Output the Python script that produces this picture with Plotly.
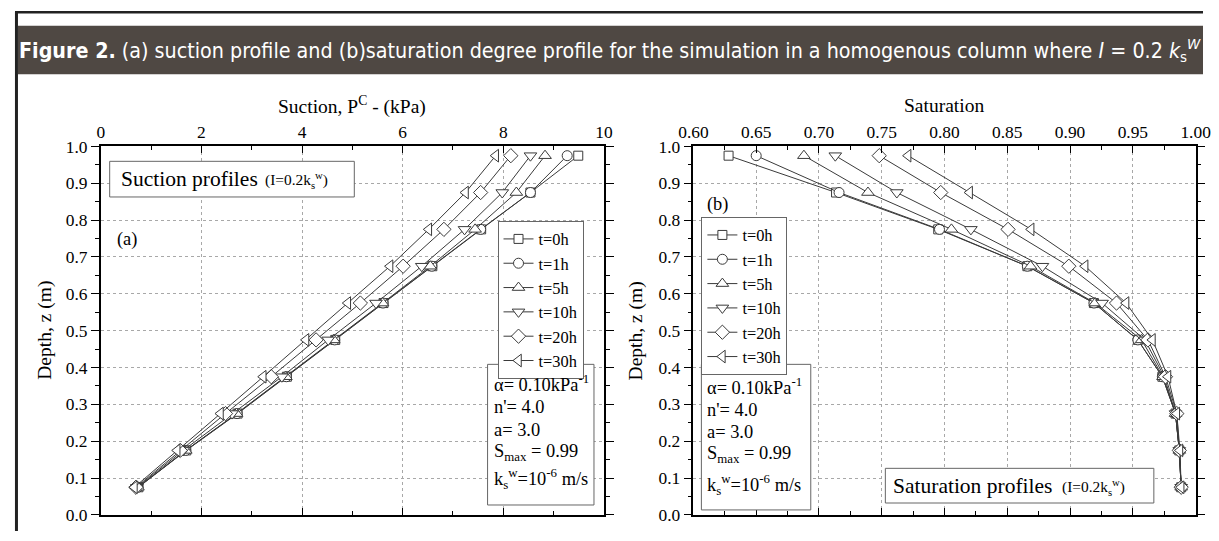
import plotly.graph_objects as go

W, H = 1219, 541

# The photographed page comes out slightly reduced and shifted; layout
# positions below are given in target-picture pixels and mapped back.
SX, OX = 0.980, 12.8
SY, OY = 0.9724, 6.2
FS = 1 / 0.976  # font compensation

# ---------------- data ----------------
depth = [0.975, 0.875, 0.775, 0.675, 0.575, 0.475, 0.375, 0.275, 0.175, 0.075]
series_names = ["t=0h", "t=1h", "t=5h", "t=10h", "t=20h", "t=30h"]

suction_t0 = [9.49, 8.54, 7.56, 6.59, 5.62, 4.66, 3.70, 2.72, 1.70, 0.75]
suction_t1 = [9.27, 8.54, 7.55, 6.58, 5.61, 4.65, 3.69, 2.71, 1.69, 0.74]
suction_t5 = [8.83, 8.26, 7.44, 6.55, 5.60, 4.63, 3.68, 2.70, 1.69, 0.74]
suction_t10 = [8.54, 7.98, 7.23, 6.38, 5.47, 4.52, 3.60, 2.61, 1.64, 0.72]
suction_t20 = [8.15, 7.55, 6.82, 6.01, 5.16, 4.28, 3.39, 2.48, 1.58, 0.70]
suction_t30 = [7.85, 7.25, 6.52, 5.75, 4.91, 4.08, 3.23, 2.38, 1.52, 0.67]

sat_t0 = [0.628, 0.7136, 0.795, 0.866, 0.919, 0.954, 0.9735, 0.984, 0.987, 0.9885]
sat_t1 = [0.650, 0.716, 0.796, 0.866, 0.919, 0.954, 0.9735, 0.984, 0.987, 0.9885]
sat_t5 = [0.688, 0.739, 0.8055, 0.8685, 0.920, 0.957, 0.974, 0.984, 0.987, 0.9885]
sat_t10 = [0.713, 0.762, 0.821, 0.878, 0.9255, 0.9596, 0.975, 0.984, 0.987, 0.9885]
sat_t20 = [0.748, 0.797, 0.8506, 0.899, 0.937, 0.962, 0.976, 0.985, 0.987, 0.9885]
sat_t30 = [0.771, 0.820, 0.869, 0.912, 0.9446, 0.9656, 0.978, 0.985, 0.9875, 0.9885]

suction_series = [suction_t0, suction_t1, suction_t5, suction_t10, suction_t20, suction_t30]
sat_series = [sat_t0, sat_t1, sat_t5, sat_t10, sat_t20, sat_t30]

suction_ticks = [0, 2, 4, 6, 8, 10]
sat_ticks = [0.60, 0.65, 0.70, 0.75, 0.80, 0.85, 0.90, 0.95, 1.00]
depth_ticks = [0.0, 0.1, 0.2, 0.3, 0.4, 0.5, 0.6, 0.7, 0.8, 0.9, 1.0]

# ---------------- style ----------------
symbols = ["square", "circle", "triangle-up", "triangle-down", "diamond", "triangle-left"]
sizes = [9, 10, 11, 11, 11, 11]
LINE = "#3a3a3a"
SERIF = "Liberation Serif, Times New Roman, Times, serif"
NARROW = "Liberation Sans Narrow, DejaVu Sans Condensed, Roboto Condensed, Arial Narrow, sans-serif"


def px(x):
    return max(0.0, (x - OX) / SX) / W


def py(y):
    return 1 - max(0.0, (y - OY) / SY) / H


def fs(size):
    return round(size * FS, 1)


fig = go.Figure()

for i, name in enumerate(series_names):
    fig.add_trace(go.Scatter(
        x=suction_series[i], y=depth, mode="lines+markers", name=name,
        xaxis="x", yaxis="y", legend="legend",
        line=dict(color=LINE, width=1),
        marker=dict(symbol=symbols[i], size=sizes[i], color="white",
                    line=dict(color=LINE, width=1)),
    ))
for i, name in enumerate(series_names):
    fig.add_trace(go.Scatter(
        x=sat_series[i], y=depth, mode="lines+markers", name=name,
        xaxis="x2", yaxis="y2", legend="legend2",
        line=dict(color=LINE, width=1),
        marker=dict(symbol=symbols[i], size=sizes[i], color="white",
                    line=dict(color=LINE, width=1)),
    ))

ytop, ybot = 144, 516
ydom = [py(ybot), py(ytop)]
TICKFONT = dict(family=SERIF, size=fs(17), color="black")

common_x = dict(side="top", ticks="inside", ticklen=7, tickwidth=1, tickcolor="black",
                showline=True, linecolor="black", linewidth=1.5, mirror="ticks",
                showgrid=True, gridcolor="#a8a8a8", griddash="dot", gridwidth=1,
                zeroline=False, tickfont=TICKFONT)
common_y = dict(ticks="outside", ticklen=8, tickwidth=1, tickcolor="black",
                showline=True, linecolor="black", linewidth=1.5, mirror="ticks",
                showgrid=True, gridcolor="#a8a8a8", griddash="dot", gridwidth=1,
                zeroline=False, tickfont=TICKFONT,
                range=[0, 1.0], tickvals=depth_ticks,
                ticktext=[f"{v:.1f}" for v in depth_ticks],
                minor=dict(ticks="outside", ticklen=4, dtick=0.05, tickcolor="black",
                           showgrid=False))

fig.update_layout(
    width=W, height=H, autosize=False,
    margin=dict(l=0, r=0, t=0, b=0, pad=0),
    paper_bgcolor="white", plot_bgcolor="white",
    font=dict(family=SERIF, size=16, color="black"),
    xaxis=dict(domain=[px(99), px(605)], anchor="y", range=[0, 10],
               tickvals=suction_ticks, ticktext=[str(v) for v in suction_ticks],
               minor=dict(ticks="inside", ticklen=4, dtick=1, tickcolor="black", showgrid=False),
               **common_x),
    yaxis=dict(domain=ydom, anchor="x", **common_y),
    xaxis2=dict(domain=[px(695), px(1200)], anchor="y2", range=[0.6, 1.0],
                tickvals=sat_ticks, ticktext=[f"{v:.2f}" for v in sat_ticks],
                minor=dict(ticks="inside", ticklen=4, dtick=0.025, tickcolor="black", showgrid=False),
                **common_x),
    yaxis2=dict(domain=ydom, anchor="x2", **common_y),
    legend=dict(x=px(498), y=py(219), xanchor="left", yanchor="top",
                bgcolor="white", bordercolor="#666", borderwidth=1,
                font=dict(family=SERIF, size=fs(16), color="black"),
                itemwidth=30, tracegroupgap=0),
    legend2=dict(x=px(703), y=py(215), xanchor="left", yanchor="top",
                 bgcolor="white", bordercolor="#666", borderwidth=1,
                 font=dict(family=SERIF, size=fs(16), color="black"),
                 itemwidth=30, tracegroupgap=0),
    showlegend=True,
)

shapes = []
annotations = []


def note(x, y, text, size, xanchor="center", yanchor="middle", family=SERIF, color="black", **kw):
    annotations.append(dict(xref="paper", yref="paper", x=px(x), y=py(y), xanchor=xanchor,
                            yanchor=yanchor, showarrow=False, text=text,
                            font=dict(family=family, size=fs(size), color=color), **kw))


# frame and header band
shapes.append(dict(type="line", xref="paper", yref="paper", x0=0, x1=1, y0=py(8.5), y1=py(8.5),
                   line=dict(color="#222", width=2.5)))
shapes.append(dict(type="line", xref="paper", yref="paper", x0=1.5 / W, x1=1.5 / W, y0=py(8), y1=0,
                   line=dict(color="#222", width=3)))
shapes.append(dict(type="rect", xref="paper", yref="paper", x0=3 / W, x1=1, y0=py(71), y1=py(22),
                   fillcolor="#4f4843", line=dict(width=0), layer="below"))
note(15, 47,
     "<b>Figure 2.</b> (a) suction profile and (b)saturation degree profile for the simulation "
     "in a homogenous column where <i>I</i> = 0.2 <i>k</i><sub>s</sub><sup><i>W</i></sup>",
     20.8, xanchor="left", family=NARROW, color="white")

# axis titles
note(352, 103, "Suction, P<sup>C</sup> - (kPa)", 19)
note(947, 103, "Saturation", 19)
for xx in (43, 637):
    note(xx, 330, "Depth, z (m)", 19, textangle=-90)

# panel labels
note(125, 238, "(a)", 18)
note(719, 203, "(b)", 18)

# title boxes
shapes.append(dict(type="rect", xref="paper", yref="paper", x0=px(108), x1=px(354), y0=py(195), y1=py(159),
                   fillcolor="white", line=dict(color="#666", width=1)))
note(117, 177, "Suction profiles", 21, xanchor="left")
note(262, 178, "(I=0.2k<sub>s</sub><sup>w</sup>)", 15, xanchor="left")
shapes.append(dict(type="rect", xref="paper", yref="paper", x0=px(888), x1=px(1158), y0=py(504), y1=py(469),
                   fillcolor="white", line=dict(color="#666", width=1)))
note(894, 487, "Saturation profiles", 21, xanchor="left")
note(1064, 488, "(I=0.2k<sub>s</sub><sup>w</sup>)", 15, xanchor="left")

# parameter boxes
param_lines = ["α= 0.10kPa<sup>-1</sup>", "n'= 4.0", "a= 3.0",
               "S<sub>max</sub> = 0.99", "k<sub>s</sub><sup>w</sup>=10<sup>-6</sup> m/s"]
boxes = [
    dict(x0=488, x1=595, y0=364, y1=506, tx=492, ys=[383, 407, 430, 453, 480]),
    dict(x0=703, x1=813, y0=364, y1=511, tx=707, ys=[386, 410, 432, 455, 486]),
]
for b in boxes:
    shapes.append(dict(type="rect", xref="paper", yref="paper", x0=px(b["x0"]), x1=px(b["x1"]),
                       y0=py(b["y1"]), y1=py(b["y0"]), fillcolor="white",
                       line=dict(color="#666", width=1)))
    for t, yy in zip(param_lines, b["ys"]):
        note(b["tx"], yy, t, 18, xanchor="left")

fig.update_layout(shapes=shapes, annotations=annotations)

fig.write_html("out.html")
